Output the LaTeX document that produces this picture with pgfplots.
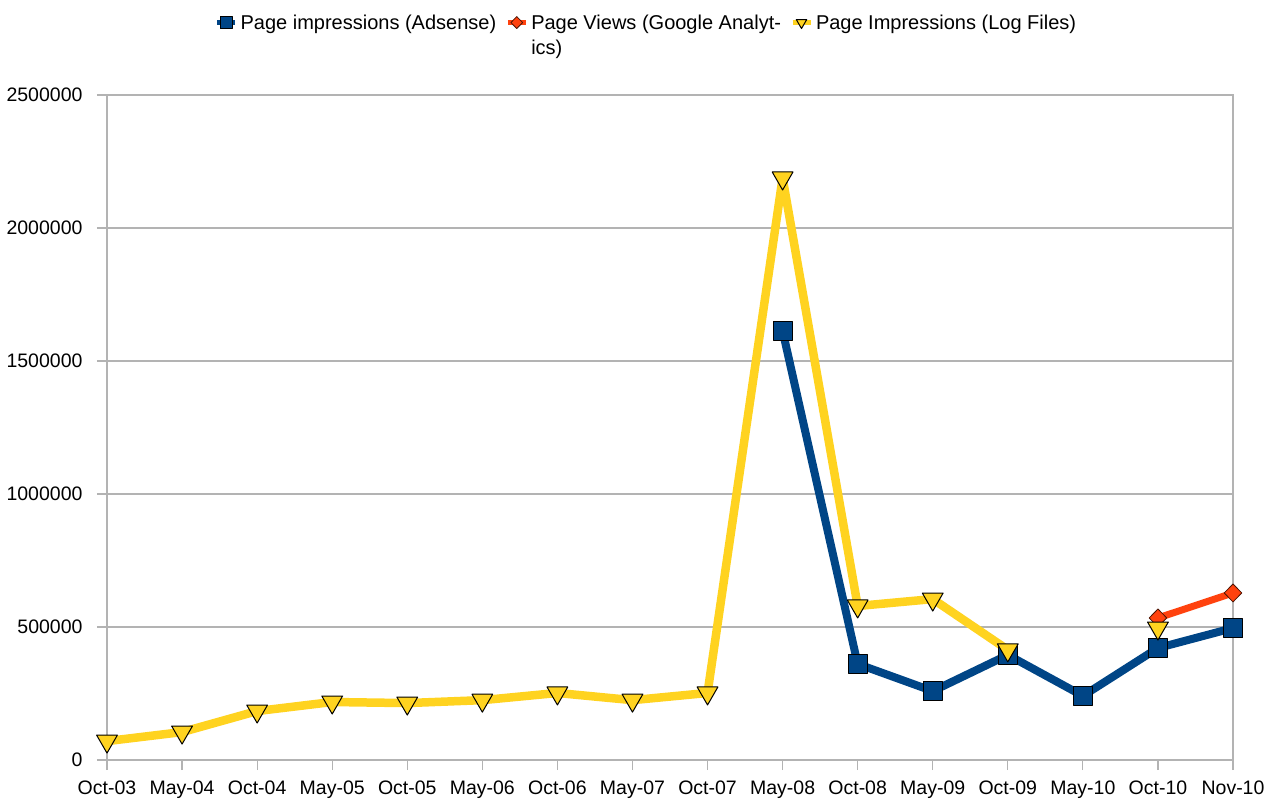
\documentclass[border=0pt]{standalone}
\usepackage{fontspec}
\setmainfont{Liberation Sans}
\usepackage{pgfplots}
\pgfplotsset{compat=1.18}
\definecolor{cblue}{HTML}{004586}
\definecolor{cred}{HTML}{FF420E}
\definecolor{cyel}{HTML}{FFD320}
\definecolor{cgrid}{HTML}{B3B3B3}

\pgfplotstableread{
x y
9 1613000
10 361000
11 259000
12 395000
13 241000
14 421000
15 496000
}\adsense
\pgfplotstableread{
x y
14 534000
15 628000
}\ganalytics
\pgfplotstableread{
x y
0 71000
1 105000
2 184000
3 218000
4 214000
5 225000
6 252000
7 225000
8 252000
9 2188000
10 579000
11 605000
12 414000
13 nan
14 496000
}\logfiles

\begin{document}
\begin{tikzpicture}[font=\fontsize{19.5bp}{25bp}\selectfont]
\useasboundingbox (0,0) rectangle (1270bp,801bp);
\begin{axis}[
  at={(107bp,41bp)}, anchor=south west,
  scale only axis, width=1126bp, height=665bp,
  xmin=0, xmax=15, ymin=0, ymax=2500000,
  xtick={0,...,15},
  xticklabels={Oct-03,May-04,Oct-04,May-05,Oct-05,May-06,Oct-06,May-07,Oct-07,May-08,Oct-08,May-09,Oct-09,May-10,Oct-10,Nov-10},
  ytick={0,500000,1000000,1500000,2000000,2500000},
  yticklabels={0,500000,1000000,1500000,2000000,2500000},
  scaled y ticks=false,
  axis line style={cgrid, line width=1.2bp},
  ymajorgrids, major grid style={cgrid, line width=1.2bp},
  tick style={cgrid, line width=1.2bp},
  tick align=outside, major tick length=10bp,
  xtick pos=bottom, ytick pos=left,
  yticklabel style={xshift=-11bp},
  xticklabel style={yshift=-7bp},
  clip=false,
  unbounded coords=jump,
  legend columns=3,
  legend style={draw=none, fill=none, at={(0.479,1.131)}, anchor=north,
    cells={anchor=base west},
    /tikz/every even column/.append style={column sep=7bp},
    /tikz/every odd column/.append style={column sep=1bp},
    font=\fontsize{20bp}{25bp}\selectfont},
  legend image code/.code={
    \draw[mark repeat=2,mark phase=2,#1,line width=5bp,mark size=6bp]
      plot coordinates {(0bp,7bp)(9bp,7bp)(18bp,7bp)};
  },
]
\addplot[cblue, line width=8bp, line join=round, mark=square*, mark size=9.5bp,
  mark options={fill=cblue, draw=black, line width=1bp}] table[x=x,y=y] {\adsense};
\addlegendentry{Page impressions (Adsense)}
\addplot[cred, line width=7bp, line join=round, mark=diamond*, mark size=9bp,
  mark options={fill=cred, draw=black!70!cred, line width=0.8bp, xscale=1.3}] table[x=x,y=y] {\ganalytics};
\addlegendentry{\begin{tabular}[t]{@{}l@{}}Page Views (Google Analyt-\\ics)\end{tabular}}
\addplot[cyel, line width=8.5bp, line join=round, mark=triangle*, mark size=12bp,
  mark options={fill=cyel, draw=black, line width=1bp, rotate=180}] table[x=x,y=y] {\logfiles};
\addlegendentry{Page Impressions (Log Files)}
\end{axis}
\end{tikzpicture}
\end{document}
